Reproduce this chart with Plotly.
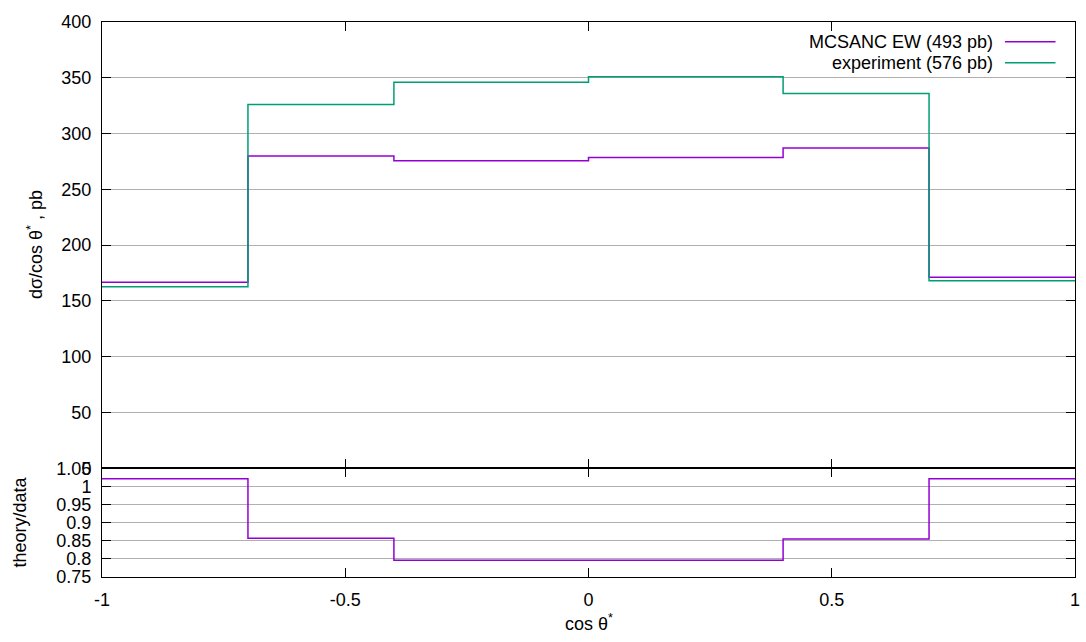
import plotly.graph_objects as go

# ---- data ----
bin_edges = [-1, -0.7, -0.4, 0, 0.4, 0.7, 1]
theory = [166.8, 279.8, 275.6, 278.5, 287.0, 171.3]      # MCSANC EW
experiment = [162.6, 326.0, 346.0, 351.0, 336.0, 168.0]  # experiment
ratio = [1.021, 0.857, 0.796, 0.796, 0.855, 1.021]       # theory/data

series_names = ["MCSANC EW (493 pb)", "experiment (576 pb)"]
series_colors = ["#9400D3", "#009E73"]

x_tickvals = [-1, -0.5, 0, 0.5, 1]
x_ticktext = ["-1", "-0.5", "0", "0.5", "1"]
y1_tickvals = [0, 50, 100, 150, 200, 250, 300, 350, 400]
y2_tickvals = [0.75, 0.8, 0.85, 0.9, 0.95, 1.0, 1.05]
y2_ticktext = ["0.75", "0.8", "0.85", "0.9", "0.95", "1", "1.05"]

FONT = "Liberation Sans, Arial, sans-serif"
FS = 18

def step(vals):
    return list(vals) + [vals[-1]]

fig = go.Figure()
fig.add_trace(go.Scatter(x=bin_edges, y=step(theory), mode="lines", line_shape="hv",
                         line=dict(color=series_colors[0], width=1.5),
                         xaxis="x", yaxis="y", showlegend=False))
fig.add_trace(go.Scatter(x=bin_edges, y=step(experiment), mode="lines", line_shape="hv",
                         line=dict(color=series_colors[1], width=1.5),
                         xaxis="x", yaxis="y", showlegend=False))
fig.add_trace(go.Scatter(x=bin_edges, y=step(ratio), mode="lines", line_shape="hv",
                         line=dict(color=series_colors[0], width=1.5),
                         xaxis="x2", yaxis="y2", showlegend=False))

bottom_frac = 0.196

axis_common = dict(showline=True, linecolor="black", linewidth=1, mirror="ticks",
                   ticks="inside", ticklen=9, tickcolor="black", tickwidth=1,
                   zeroline=False, tickfont=dict(family=FONT, size=FS, color="black"))

fig.update_layout(
    width=1086, height=642,
    margin=dict(l=102, r=6, t=22, b=65),
    paper_bgcolor="white", plot_bgcolor="white",
    font=dict(family=FONT, size=FS, color="black"),
    xaxis=dict(domain=[0, 1], anchor="y", range=[-1, 1], tickvals=x_tickvals,
               showticklabels=False, showgrid=False, **axis_common),
    yaxis=dict(domain=[bottom_frac, 1], anchor="x", range=[0, 400], tickvals=y1_tickvals,
               showgrid=True, gridcolor="#b0b0b0", gridwidth=1,
               ticklabelstandoff=6, **axis_common),
    xaxis2=dict(domain=[0, 1], anchor="y2", range=[-1, 1], matches="x",
                tickvals=x_tickvals, ticktext=x_ticktext, showgrid=False,
                ticklabelstandoff=6, **axis_common),
    yaxis2=dict(domain=[0, bottom_frac], anchor="x2", range=[0.75, 1.05],
                tickvals=y2_tickvals, ticktext=y2_ticktext,
                showgrid=True, gridcolor="#b0b0b0", gridwidth=1,
                ticklabelstandoff=6, **axis_common),
)

# axis titles
fig.add_annotation(text="dσ/cos θ<sup>*</sup> , pb", xref="paper", yref="paper",
                   x=0, y=(bottom_frac + 1) / 2, xshift=-67, xanchor="center",
                   yanchor="middle", textangle=-90,
                   showarrow=False, font=dict(family=FONT, size=FS))
fig.add_annotation(text="theory/data", xref="paper", yref="paper",
                   x=0, y=bottom_frac / 2, xshift=-82, xanchor="center",
                   yanchor="middle", textangle=-90,
                   showarrow=False, font=dict(family=FONT, size=FS))
fig.add_annotation(text="cos θ<sup>*</sup>", xref="paper", yref="paper",
                   x=0.5, y=0, yshift=-45, xanchor="center", yanchor="middle",
                   showarrow=False, font=dict(family=FONT, size=FS))

# gnuplot-style key (text right-aligned, sample line on the right)
key_y = [0.9645, 0.9267]
for name, color, ky in zip(series_names, series_colors, key_y):
    fig.add_annotation(text=name, xref="paper", yref="paper", x=0.918, y=ky,
                       xanchor="right", yanchor="middle", showarrow=False,
                       font=dict(family=FONT, size=FS))
    fig.add_shape(type="line", xref="paper", yref="paper", x0=0.928, x1=0.980,
                  y0=ky, y1=ky, line=dict(color=color, width=1.5))

fig.write_html("out.html")
